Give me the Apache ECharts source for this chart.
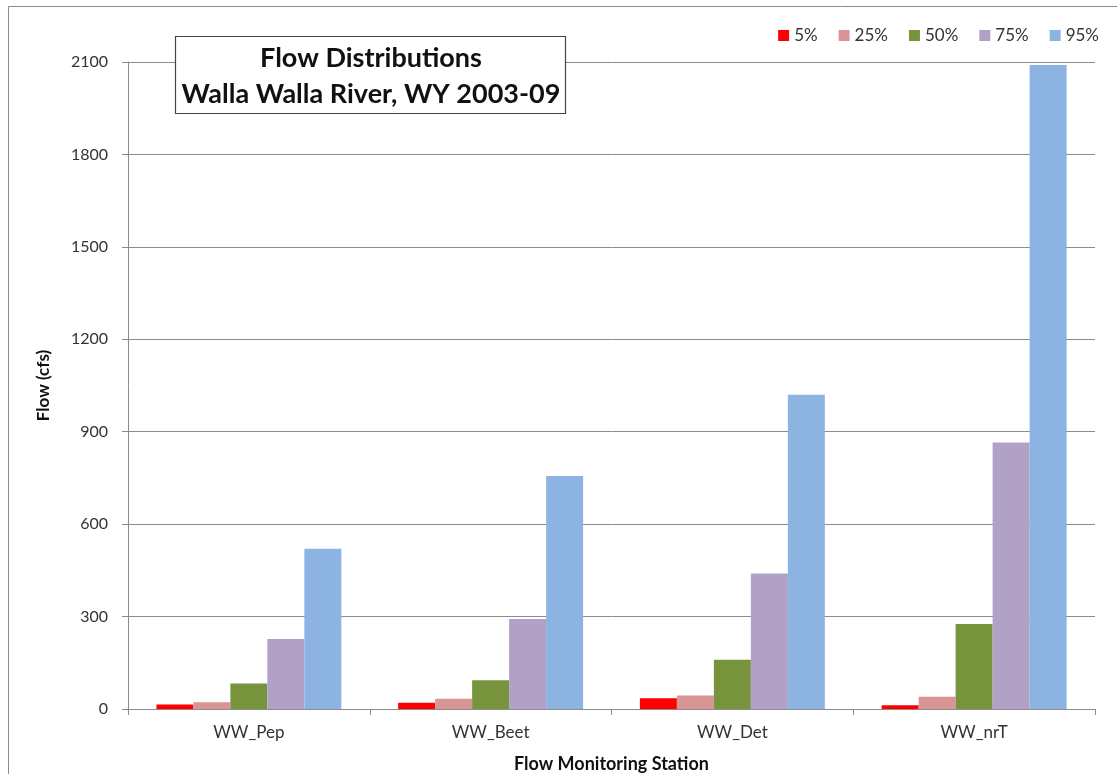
<!DOCTYPE html>
<html>
<head>
<meta charset="utf-8">
<script src="https://cdn.jsdelivr.net/npm/echarts@6/dist/echarts.min.js"></script>
<style>
  html, body { margin: 0; padding: 0; background: #fff; }
  #chart { width: 1117px; height: 774px; }
</style>
</head>
<body>
<div id="chart"></div>
<script>
// Flow monitoring stations along the Walla Walla River
const stations = ['WW_Pep', 'WW_Beet', 'WW_Det', 'WW_nrT'];

// Flow exceedance percentiles (cfs), one array per percentile
const p5  = [15, 20, 35, 12];
const p25 = [22, 33, 44, 40];
const p50 = [83, 93, 160, 276];
const p75 = [227, 292, 440, 865];
const p95 = [520, 756, 1020, 2090];

const seriesNames = ['5%', '25%', '50%', '75%', '95%'];
const seriesData = [p5, p25, p50, p75, p95];
const colors = ['#ff0000', '#d99594', '#77933c', '#b2a1c7', '#8db3e2'];

const yTicks = [0, 300, 600, 900, 1200, 1500, 1800, 2100];

const FONT = 'Lato, "Open Sans", sans-serif';

const chart = echarts.init(document.getElementById('chart'), null, { renderer: 'canvas' });

chart.setOption({
  backgroundColor: '#ffffff',
  animation: false,
  color: colors,
  grid: {
    left: 128, right: 22, top: 62, bottom: 65,
    containLabel: false,
    outerBoundsMode: 'none'
  },
  legend: {
    data: seriesNames,
    right: 13,
    top: 22,
    itemWidth: 11,
    itemHeight: 11,
    itemGap: 21,
    icon: 'rect',
    textStyle: { fontFamily: FONT, fontSize: 17, color: '#333' }
  },
  xAxis: {
    type: 'category',
    data: stations,
    name: 'Flow Monitoring Station',
    nameLocation: 'middle',
    nameGap: 46,
    nameTextStyle: { fontFamily: FONT, fontSize: 18, fontWeight: 'bold', color: '#111' },
    axisLine: { lineStyle: { color: '#8c8c8c', width: 1 } },
    axisTick: { show: true, alignWithLabel: false, length: 6, lineStyle: { color: '#8c8c8c' } },
    axisLabel: { fontFamily: FONT, fontSize: 17, color: '#333', margin: 15 }
  },
  yAxis: {
    type: 'value',
    min: 0,
    max: yTicks[yTicks.length - 1],
    interval: yTicks[1] - yTicks[0],
    name: 'Flow (cfs)',
    nameLocation: 'middle',
    nameGap: 76,
    nameRotate: 90,
    nameTextStyle: { fontFamily: FONT, fontSize: 17, fontWeight: 'bold', color: '#111' },
    axisLine: { show: true, lineStyle: { color: '#8c8c8c', width: 1 } },
    axisTick: { show: true, length: 6, lineStyle: { color: '#8c8c8c' } },
    axisLabel: {
      fontFamily: FONT, fontSize: 16, color: '#333', margin: 20,
      formatter: (v) => String(v)
    },
    splitLine: { lineStyle: { color: '#8c8c8c', width: 1 } }
  },
  series: seriesNames.map((name, i) => ({
    name: name,
    type: 'bar',
    data: seriesData[i],
    barGap: '0%',
    barCategoryGap: '23.5%',
    itemStyle: { color: colors[i] }
  })),
  graphic: [
    {
      type: 'rect',
      silent: true,
      shape: { x: 8.5, y: 6.5, width: 1200, height: 900 },
      style: { fill: 'none', stroke: '#8c8c8c', lineWidth: 1 }
    },
    {
      type: 'rect',
      silent: true,
      z: 10,
      shape: { x: 175.5, y: 36.5, width: 390, height: 77 },
      style: { fill: '#ffffff', stroke: '#444', lineWidth: 1.2 }
    },
    {
      type: 'text',
      silent: true,
      z: 11,
      x: 371,
      y: 40,
      style: {
        text: 'Flow Distributions\nWalla Walla River, WY 2003-09',
        align: 'center',
        verticalAlign: 'top',
        fontFamily: FONT,
        fontSize: 27,
        fontWeight: 'bold',
        lineHeight: 36,
        fill: '#111'
      }
    }
  ]
});
</script>
</body>
</html>
